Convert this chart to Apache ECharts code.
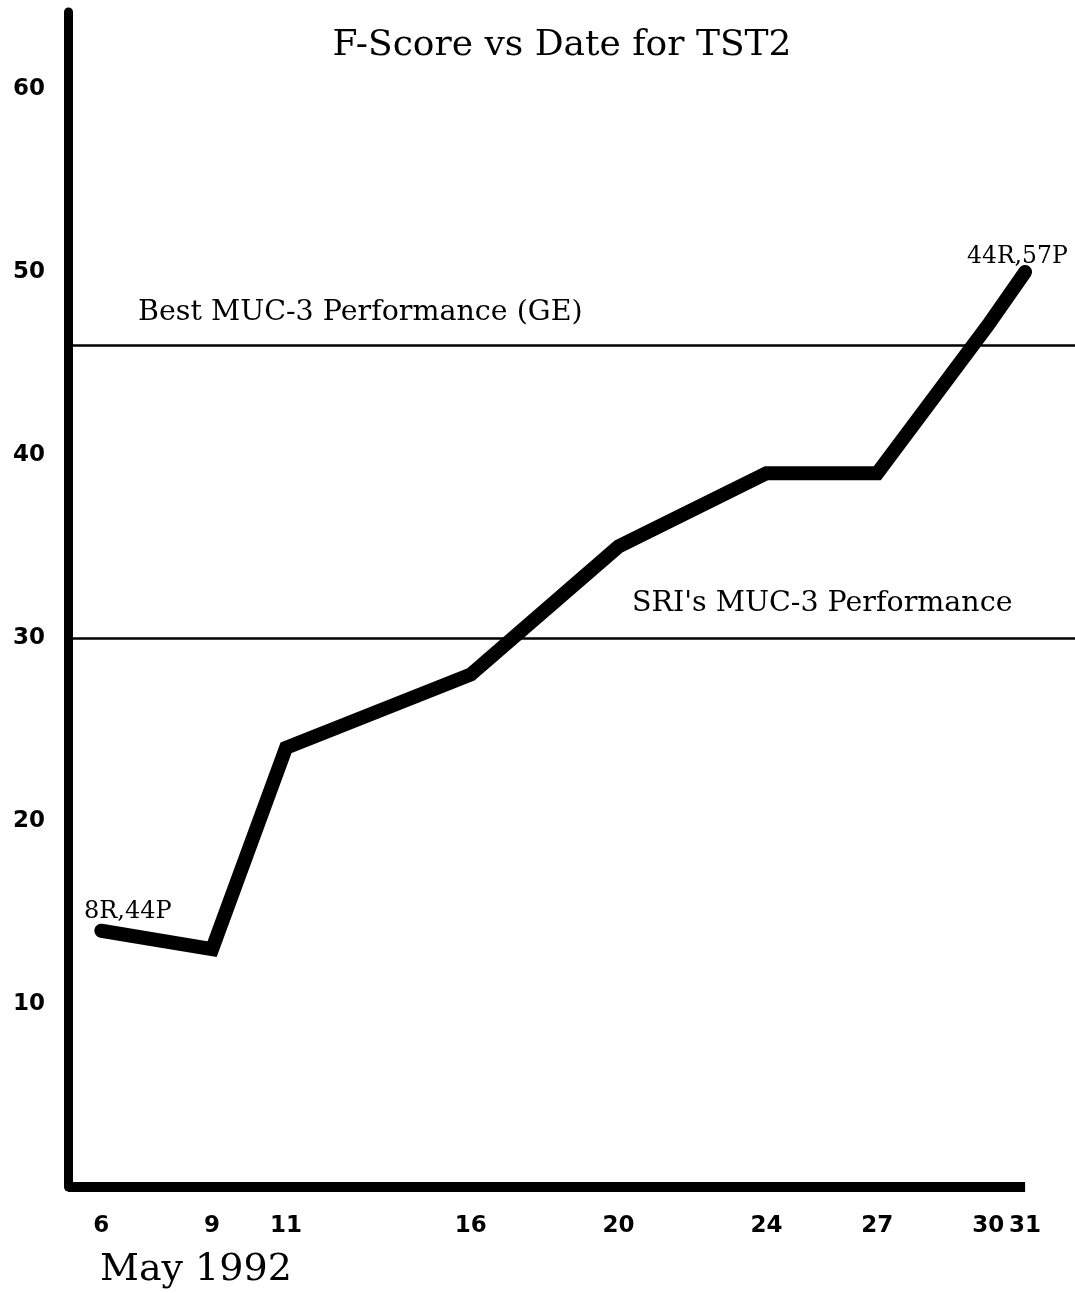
<!DOCTYPE html>
<html>
<head>
<meta charset="utf-8">
<script src="https://cdn.jsdelivr.net/npm/echarts@6/dist/echarts.min.js"></script>
<style>
  html, body { margin: 0; padding: 0; background: #fff; }
  #main { width: 1075px; height: 1293px; }
</style>
</head>
<body>
<div id="main"></div>
<script>
// data
var days = [6, 9, 11, 16, 20, 24, 27, 30, 31];
var fScore = [14, 13, 24, 28, 35, 39, 39, 47.1, 50];
var dayTicks = [6, 9, 11, 16, 20, 24, 27, 30, 31];
var scoreTicks = [10, 20, 30, 40, 50, 60];
var bestMuc3 = 46;
var sriMuc3 = 30;

var serif = "DejaVu Serif";
var sans = "DejaVu Sans";

var chart = echarts.init(document.getElementById("main"));

chart.setOption({
  animation: false,
  backgroundColor: "#fff",
  grid: { left: 68, right: 0, top: 12, bottom: 106 },
  xAxis: {
    type: "value",
    min: 5.1,
    max: 32.35,
    axisLine: { show: false },
    axisTick: { show: false },
    splitLine: { show: false },
    axisLabel: {
      customValues: dayTicks,
      margin: 28,
      color: "#000",
      fontFamily: sans,
      fontWeight: "bold",
      fontSize: 23,
    },
  },
  yAxis: {
    type: "value",
    min: 0,
    max: 64.2,
    axisLine: { show: true, lineStyle: { color: "#000", width: 9 } },
    axisTick: { show: false },
    splitLine: { show: false },
    axisLabel: {
      customValues: scoreTicks,
      align: "left",
      margin: 55,
      color: "#000",
      fontFamily: sans,
      fontWeight: "bold",
      fontSize: 23,
    },
  },
  series: [
    {
      type: "line",
      clip: false,
      symbol: "none",
      lineStyle: { color: "#000", width: 14, cap: "round", join: "miter" },
      data: days.map(function (d, i) {
        return [d, fScore[i]];
      }),
      markLine: {
        silent: true,
        symbol: "none",
        label: { show: false },
        data: [
          { yAxis: bestMuc3, lineStyle: { color: "#000", width: 2.5, type: "solid" } },
          { yAxis: sriMuc3, lineStyle: { color: "#000", width: 2.5, type: "solid" } },
          [
            { coord: [5.1, 0], lineStyle: { color: "#000", width: 10, type: "solid" } },
            { coord: [31, 0] },
          ],
        ],
      },
    },
  ],
  graphic: [
    {
      type: "text",
      x: 562,
      y: 46,
      style: {
        text: "F-Score vs Date for TST2",
        font: "36px '" + serif + "'",
        fill: "#000",
        align: "center",
        verticalAlign: "middle",
      },
    },
    {
      type: "text",
      x: 100,
      y: 1270,
      style: {
        text: "May 1992",
        font: "38px '" + serif + "'",
        fill: "#000",
        verticalAlign: "middle",
      },
    },
    {
      type: "text",
      x: 138,
      y: 313,
      style: {
        text: "Best MUC-3 Performance (GE)",
        font: "28.5px '" + serif + "'",
        fill: "#000",
        verticalAlign: "middle",
      },
    },
    {
      type: "text",
      x: 632,
      y: 604,
      style: {
        text: "SRI's MUC-3 Performance",
        font: "28.5px '" + serif + "'",
        fill: "#000",
        verticalAlign: "middle",
      },
    },
    {
      type: "text",
      x: 84,
      y: 912,
      style: {
        text: "8R,44P",
        font: "24px '" + serif + "'",
        fill: "#000",
        verticalAlign: "middle",
      },
    },
    {
      type: "text",
      x: 967,
      y: 257,
      style: {
        text: "44R,57P",
        font: "23.5px '" + serif + "'",
        fill: "#000",
        verticalAlign: "middle",
      },
    },
  ],
});
</script>
</body>
</html>
